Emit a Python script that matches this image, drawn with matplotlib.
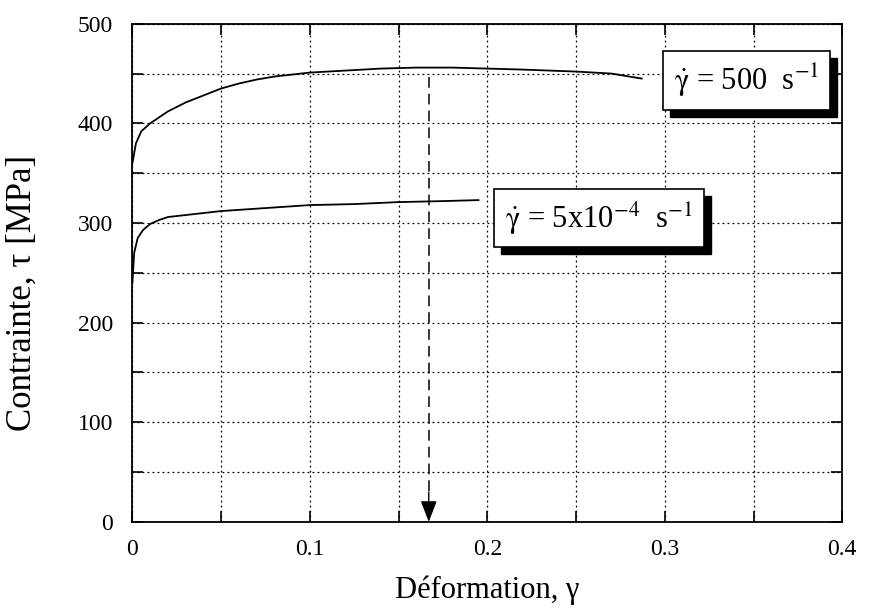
import numpy as np
import matplotlib
matplotlib.use("Agg")
import matplotlib.pyplot as plt
from matplotlib.patches import Rectangle
from matplotlib.transforms import IdentityTransform

plt.rcParams['font.family'] = ['Liberation Serif', 'DejaVu Serif']
plt.rcParams['mathtext.fontset'] = 'stix'

# courbe a 500 s^-1
gam_fast = [0, 0.002, 0.005, 0.01, 0.02, 0.03, 0.04, 0.05, 0.06, 0.07, 0.08, 0.09, 0.1,
            0.12, 0.14, 0.16, 0.18, 0.2, 0.22, 0.25, 0.27, 0.28, 0.287]
tau_fast = [360, 380, 392, 400, 412, 421, 428, 435, 440, 444, 447, 449, 451,
            453, 455, 456, 456, 455, 454, 452, 450, 447, 445]

# courbe a 5x10^-4 s^-1
gam_slow = [0, 0.001, 0.003, 0.006, 0.01, 0.015, 0.02, 0.03, 0.05, 0.075, 0.1,
            0.125, 0.15, 0.175, 0.195]
tau_slow = [240, 270, 285, 293, 299, 303, 306, 308, 312, 315, 318, 319, 321, 322, 323]

arrow_x = 0.167
arrow_top = 447

fig = plt.figure(figsize=(8.71, 6.09), dpi=100)
ax = fig.add_axes([0.152, 0.143, 0.815, 0.818])

ax.plot(gam_fast, tau_fast, color='black', lw=1.3)
ax.plot(gam_slow, tau_slow, color='black', lw=1.3)

# fleche pointillee
ax.plot([arrow_x, arrow_x], [arrow_top, 25], color='black', lw=1.1, dashes=(7, 4))
ax.annotate('', xy=(arrow_x, 0), xytext=(arrow_x, 30),
            arrowprops=dict(arrowstyle='-|>,head_length=1.3,head_width=0.5',
                            color='black', lw=1.0, shrinkA=0, shrinkB=0))

ax.set_xlim(0, 0.4)
ax.set_ylim(0, 500)
xt = np.arange(0, 0.401, 0.05)
yt = np.arange(0, 501, 50)
ax.set_xticks(xt)
ax.set_xticklabels(['0', '', '0.1', '', '0.2', '', '0.3', '', '0.4'])
ax.set_yticks(yt)
ax.set_yticklabels(['0', '', '100', '', '200', '', '300', '', '400', '', '500'])
ax.tick_params(direction='in', length=8, width=1.2, top=True, right=True,
               labelsize=17, pad=12)
ax.tick_params(axis='y', pad=14)
ax.grid(True, color='black', linestyle=(0, (1.5, 2.5)), lw=0.9)
for s in ax.spines.values():
    s.set_linewidth(1.3)

ax.set_xlabel('Déformation, γ', fontsize=22, va='center')
ax.set_ylabel('Contrainte, τ [MPa]', fontsize=25, va='center')
ax.xaxis.set_label_coords(0.5, -0.137)
ax.yaxis.set_label_coords(-0.155, 0.46)

# etiquettes avec ombre
labels = [(0.305, 443, r'$\dot{\mathrm{\gamma}}$ = 500  s$^{-1}$'),
          (0.21, 305, r'$\dot{\mathrm{\gamma}}$ = 5x10$^{-4}$  s$^{-1}$')]
boxes = []
for x, y, txt in labels:
    t = ax.text(x, y, txt, fontsize=22, color='black', va='center', ha='left',
                bbox=dict(boxstyle='square,pad=0.35', fc='white', ec='black', lw=1.2),
                zorder=6)
    boxes.append(t)

fig.canvas.draw()
for t in boxes:
    bb = t.get_bbox_patch().get_window_extent()
    ax.add_artist(Rectangle((bb.x0 + 7, bb.y0 - 7), bb.width, bb.height,
                            transform=IdentityTransform(), fc='black', ec='black',
                            zorder=5, clip_on=False))

fig.savefig('out.png', dpi=100)
